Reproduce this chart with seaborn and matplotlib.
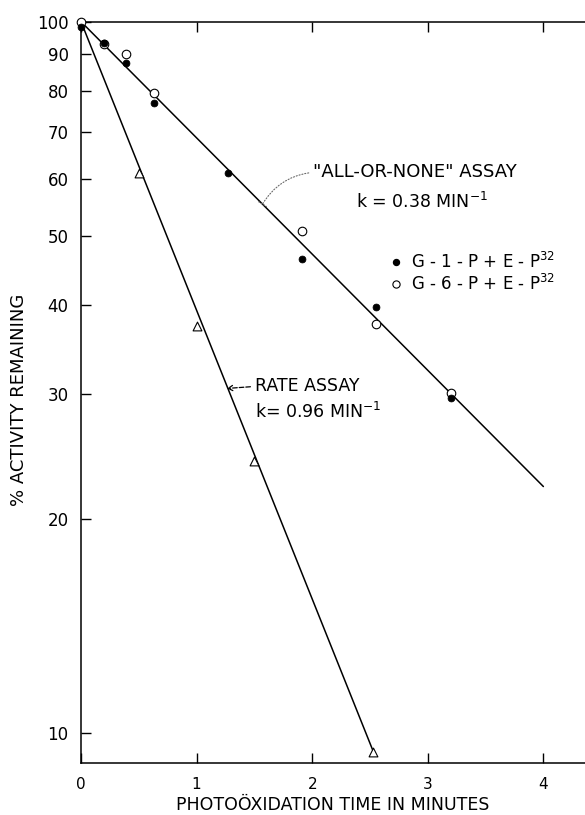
import matplotlib
matplotlib.use("Agg")
import matplotlib.pyplot as plt
from matplotlib.lines import Line2D
import seaborn as sns

g1p_time = [0.0, 0.2, 0.39, 0.63, 1.27, 1.91, 2.55, 3.2]
g1p_act = [98.4, 93.3, 87.5, 76.9, 61.3, 46.4, 39.7, 29.6]

g6p_time = [0.0, 0.2, 0.39, 0.63, 1.91, 2.55, 3.2]
g6p_act = [100.0, 93.0, 90.0, 79.4, 50.8, 37.6, 30.1]

rate_time = [0.5, 1.0, 1.5, 2.53]
rate_act = [61.3, 37.3, 24.1, 9.4]

# fitted lines (end points)
aon_fit_time = [0.0, 4.0]
aon_fit_act = [100.0, 22.2]
rate_fit_time = [0.0, 2.53]
rate_fit_act = [100.0, 9.4]

x_ticks = [0, 1, 2, 3, 4]
y_ticks = [10, 20, 30, 40, 50, 60, 70, 80, 90, 100]

sns.set_style("ticks")
plt.rcParams["font.family"] = ["DejaVu Sans"]
plt.rcParams["mathtext.default"] = "regular"
for key in ["text.color", "axes.labelcolor", "xtick.color", "ytick.color", "axes.edgecolor"]:
    plt.rcParams[key] = "black"

fig = plt.figure(figsize=(5.85, 8.15), dpi=100)
ax = fig.add_axes([0.1385, 0.0638, 0.8615, 0.9096])

# fitted lines
sns.lineplot(x=aon_fit_time, y=aon_fit_act, ax=ax, color="black", lw=1.1, zorder=2)
sns.lineplot(x=rate_fit_time, y=rate_fit_act, ax=ax, color="black", lw=1.1, zorder=2)

# data points
sns.scatterplot(x=g1p_time, y=g1p_act, ax=ax, color="black", s=24, marker="o",
                edgecolor="black", linewidth=0.6, zorder=4, clip_on=False)
sns.scatterplot(x=g6p_time, y=g6p_act, ax=ax, color="white", s=38, marker="o",
                edgecolor="black", linewidth=0.8, zorder=3, clip_on=False)
sns.scatterplot(x=rate_time, y=rate_act, ax=ax, color="white", s=40, marker="^",
                edgecolor="black", linewidth=0.8, zorder=3, clip_on=False)

ax.set_yscale("log")
ax.set_xlim(0, 4.36)
ax.set_ylim(9.07, 100)

ax.set_xticks(x_ticks)
ax.set_xticklabels([str(t) for t in x_ticks])
ax.set_yticks(y_ticks)
ax.set_yticklabels([str(t) for t in y_ticks])
ax.yaxis.set_minor_locator(matplotlib.ticker.NullLocator())

ax.tick_params(axis="y", direction="in", length=7, width=1, labelsize=12, pad=9)
ax.tick_params(axis="x", direction="in", length=7, width=1, labelsize=11, pad=10,
               top=True)
for side in ["left", "bottom", "top"]:
    ax.spines[side].set_linewidth(1.1)
ax.spines["right"].set_visible(False)

ax.set_xlabel("PHOTOÖXIDATION TIME IN MINUTES", fontsize=12.5)
ax.set_ylabel("% ACTIVITY REMAINING", fontsize=13)
ax.xaxis.set_label_coords(0.5, -0.045)
ax.yaxis.set_label_coords(-0.105, 0.49)

# annotations
ax.annotate('"ALL-OR-NONE" ASSAY', xy=(1.57, 55.4), xytext=(2.01, 61.4),
            fontsize=13, ha="left", va="center",
            arrowprops=dict(arrowstyle="-[, widthB=0.25, lengthB=0", linestyle=":",
                            color="dimgray", lw=0.8, relpos=(0, 0.5),
                            connectionstyle="arc3,rad=0.25", shrinkA=1, shrinkB=0))
ax.text(2.95, 55.8, "k = 0.38 MIN$^{-1}$", fontsize=12.5, ha="center", va="center")

ax.annotate("RATE ASSAY", xy=(1.264, 30.5), xytext=(1.506, 30.7),
            fontsize=12.5, ha="left", va="center",
            arrowprops=dict(arrowstyle="->, head_length=0.25, head_width=0.15",
                            linestyle="--", color="black", lw=0.9, relpos=(0, 0.5),
                            shrinkA=1, shrinkB=0))
ax.text(1.506, 28.3, "k= 0.96 MIN$^{-1}$", fontsize=12.5, ha="left", va="center")

# legend for the two substrate series
handles = [Line2D([], [], ls="none", marker="o", ms=4.3, mfc="black", mec="black"),
           Line2D([], [], ls="none", marker="o", ms=5.2, mfc="white", mec="black", mew=0.8)]
labels = ["G - 1 - P + E - P$^{32}$", "G - 6 - P + E - P$^{32}$"]
ax.legend(handles, labels, loc="center left", bbox_to_anchor=(0.612, 0.661),
          frameon=False, fontsize=12, handlelength=0.8, handletextpad=0.5,
          borderpad=0, borderaxespad=0, labelspacing=0.1)

fig.savefig("out.png", dpi=100)
